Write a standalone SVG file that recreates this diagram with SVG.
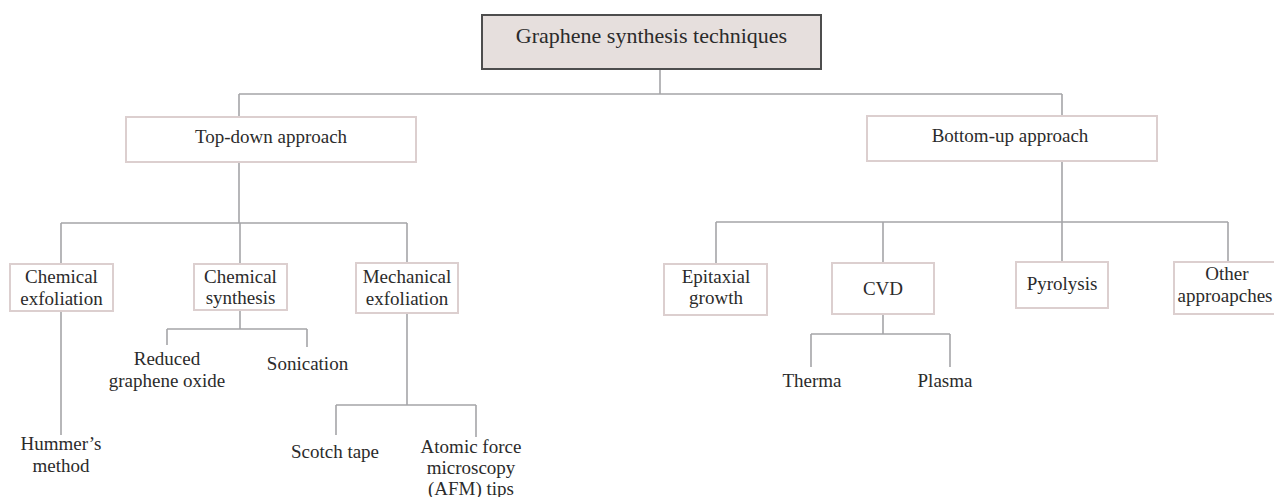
<svg xmlns="http://www.w3.org/2000/svg" width="1274" height="497" viewBox="0 0 1274 497">
<style>
text{font-family:"Liberation Serif","Times New Roman",serif;fill:#2b2b2b;text-anchor:middle}
.t1{font-size:22px}
.t{font-size:19px}
.box{fill:#ffffff;stroke:#dccfcf;stroke-width:2}
.root{fill:#e6dfdd;stroke:#4d4d4d;stroke-width:2}
.c{fill:none;stroke:#a5a5a8;stroke-width:1.6}
</style>
<rect width="1274" height="497" fill="#ffffff"/>
<g id="connectors">
<path class="c" d="M660 69V94M239 94H1062M239 94V117M1062 94V116"/>
<path class="c" d="M239 162V223M61 223H407M61 223V264M240 223V264M407 223V263"/>
<path class="c" d="M1062 161V222M716 222H1228M716 222V264M883 222V263M1062 222V262M1228 222V262"/>
<path class="c" d="M61 311V435"/>
<path class="c" d="M240 310V329M167 329H307M167 329V345M307 329V347"/>
<path class="c" d="M407 313V405M336 405H476M336 405V435M476 405V437"/>
<path class="c" d="M883 314V334M811 334H950M811 334V367M950 334V367"/>
</g>
<g id="n-root"><rect class="root" x="482" y="15" width="339" height="54"/><text class="t1" x="651.5" y="43">Graphene synthesis techniques</text></g>
<g id="n-topdown"><rect class="box" x="126" y="117" width="290" height="45"/><text class="t" x="271" y="143">Top-down approach</text></g>
<g id="n-bottomup"><rect class="box" x="867" y="116" width="290" height="45"/><text class="t" x="1010" y="142">Bottom-up approach</text></g>
<g id="n-chemexf"><rect class="box" x="10" y="264" width="103" height="47"/><text class="t" x="61.5" y="283">Chemical</text><text class="t" x="61.5" y="305">exfoliation</text></g>
<g id="n-chemsyn"><rect class="box" x="194" y="264" width="93" height="46"/><text class="t" x="240.5" y="283">Chemical</text><text class="t" x="240.5" y="304">synthesis</text></g>
<g id="n-mechexf"><rect class="box" x="356" y="263" width="102" height="50"/><text class="t" x="407" y="283">Mechanical</text><text class="t" x="407" y="305">exfoliation</text></g>
<g id="n-hummer"><text class="t" x="61" y="450">Hummer’s</text><text class="t" x="61" y="472">method</text></g>
<g id="n-rgo"><text class="t" x="167" y="365">Reduced</text><text class="t" x="167" y="387">graphene oxide</text></g>
<g id="n-sonication"><text class="t" x="307.5" y="370">Sonication</text></g>
<g id="n-scotch"><text class="t" x="335" y="458">Scotch tape</text></g>
<g id="n-afm"><text class="t" x="471" y="453">Atomic force</text><text class="t" x="471" y="474">microscopy</text><text class="t" x="471" y="495">(AFM) tips</text></g>
<g id="n-epitaxial"><rect class="box" x="664" y="264" width="103" height="51"/><text class="t" x="716" y="283">Epitaxial</text><text class="t" x="716" y="304">growth</text></g>
<g id="n-cvd"><rect class="box" x="832" y="263" width="102" height="51"/><text class="t" x="883" y="295">CVD</text></g>
<g id="n-pyrolysis"><rect class="box" x="1016" y="262" width="92" height="46"/><text class="t" x="1062" y="290">Pyrolysis</text></g>
<g id="n-other"><rect class="box" x="1174" y="262" width="110" height="52"/><text class="t" x="1227" y="280">Other</text><text class="t" x="1225" y="302">approapches</text></g>
<g id="n-therma"><text class="t" x="812" y="387">Therma</text></g>
<g id="n-plasma"><text class="t" x="945" y="387">Plasma</text></g>
</svg>
